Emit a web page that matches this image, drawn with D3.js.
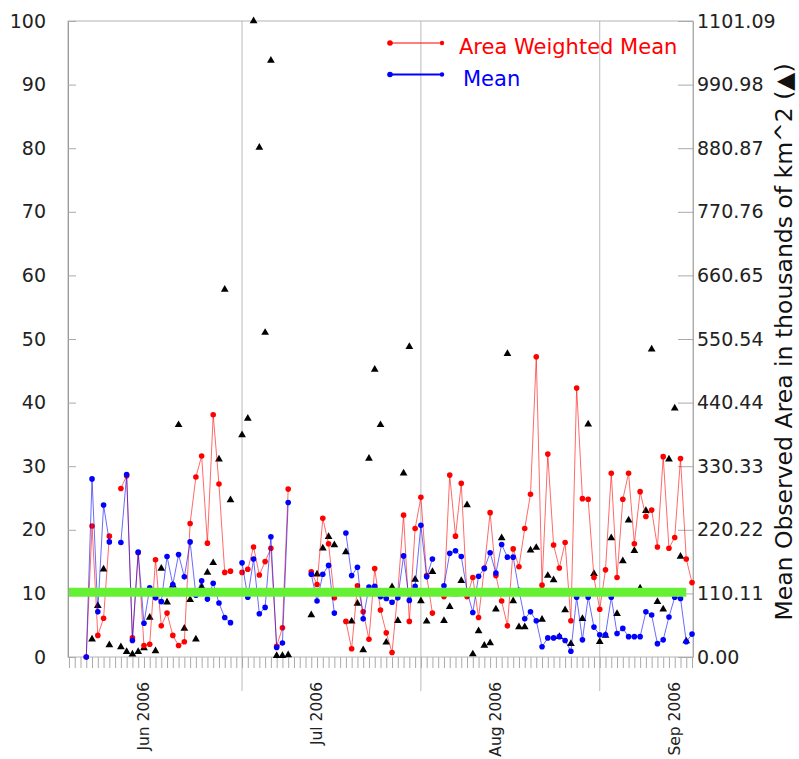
<!DOCTYPE html>
<html>
<head>
<meta charset="utf-8">
<script src="https://cdn.jsdelivr.net/npm/d3@7"></script>
<style>
  body { margin: 0; background: #fff; }
  svg text { font-family: "DejaVu Sans", sans-serif; }
</style>
</head>
<body>
<script>
// daily observations, 2006-05-22 .. 2006-09-04 (null = no data that day)
var startDay = new Date(2006, 4, 22);
var endDay = new Date(2006, 8, 5);

var weightedMean = [0, 20.6, 3.4, 6.1, 19.0, null, 26.5, 28.5, 3.0, 16.4,
  1.8, 2.0, 15.3, 4.9, 6.9, 3.4, 1.8, 2.4, 21.0, 28.3,
  31.6, 17.9, 38.1, 27.2, 13.3, 13.5, null, 13.3, 13.8, 17.3,
  12.9, 15.0, 17.1, 1.7, 4.6, 26.4, null, null, null, 13.4,
  11.4, 21.8, 17.8, 9.3, null, 5.6, 1.3, 11.2, 7.1, 2.8,
  13.9, 7.4, 3.8, 0.7, 10.2, 22.3, 5.6, 20.2, 25.1, 12.8,
  6.9, null, 9.5, 28.6, 19.0, 27.3, 9.5, 12.5, 6.2, 14.0,
  22.7, 12.8, 8.8, 4.9, 17.0, 14.2, 20.2, 25.6, 47.2, 11.3,
  31.9, 17.6, 14.0, 18.0, 5.7, 42.3, 24.9, 24.8, 12.5, 7.5,
  13.7, 28.9, 12.5, 24.8, 28.9, 17.8, 26.0, 22.1, 23.1, 17.3,
  31.5, 17.1, 18.8, 31.2, 15.4, 11.7];

var plainMean = [0, 28.0, 7.1, 23.9, 18.1, null, 18.0, 28.7, 2.6, 16.5,
  5.3, 10.9, 9.3, 8.7, 15.8, 11.4, 16.1, 12.6, 18.1, 9.7,
  12.0, 9.1, 11.6, 8.5, 6.2, 5.4, null, 14.8, 9.4, 15.4,
  6.8, 7.8, 18.9, 1.5, 2.2, 24.3, null, null, null, 13.0,
  8.8, 13.0, 14.4, 6.9, null, 19.5, 12.8, 14.1, 6.0, 11.0,
  11.1, 9.5, 9.2, 8.6, 9.3, 15.9, 8.9, 11.1, 20.7, 12.6,
  15.4, null, 11.2, 16.3, 16.7, 15.8, 10.4, 7.0, 12.7, 13.9,
  16.4, 13.2, 17.7, 15.7, 15.7, 10.5, 6.0, 7.1, 5.7, 1.6,
  3.0, 3.0, 3.2, 2.6, 0.9, 9.4, 2.7, 9.4, 4.7, 3.5,
  3.5, 9.4, 3.7, 4.5, 3.2, 3.2, 3.2, 7.1, 6.6, 2.1,
  2.7, 6.3, 9.4, 9.2, 2.4, 3.6];

// mean observed area, thousands of km^2 (right axis)
var observedArea = [null, 30.6, 88.9, 151.9, 20.8, null, 17.3, 9.2, 4.6, 9.2,
  15.6, 68.3, 10.4, 153.1, 94.7, 124.4, 401.9, 49.5, 99.1, 30.8,
  121.1, 146.4, 163.0, 342.4, 636.4, 272.0, null, 384.3, 412.9, 1101.09,
  882.0, 561.6, 1032.8, 2.2, 2.2, 3.3, null, null, null, 72.7,
  143.1, 188.3, 208.1, 193.8, null, 181.7, 61.7, 92.5, 12.1, 343.5,
  497.7, 401.9, 25.3, 121.1, 62.8, 318.2, 537.3, 134.3, 96.9, 61.7,
  147.5, null, 62.8, 87.0, 109.0, 132.1, 263.2, 5.0, 45.1, 19.8,
  24.2, 82.6, 205.9, 525.2, 96.9, 51.8, 51.8, 185.0, 189.4, 65.0,
  140.9, 133.2, 35.2, 81.5, 23.1, null, 66.1, 403.0, 144.2, 26.4,
  37.4, 205.9, 74.9, 166.3, 236.7, 183.9, 118.9, 253.3, 532.9, 95.8,
  82.6, 342.4, 430.5, 174.0, 27.5, null];

var overallLevel = 10.2;
var overallFrom = new Date(2006, 4, 19);
var overallTo = new Date(2006, 8, 3);

var leftTicks = [0, 10, 20, 30, 40, 50, 60, 70, 80, 90, 100];
var rightTicks = [0, 110.11, 220.22, 330.33, 440.44, 550.54, 660.65, 770.76, 880.87, 990.98, 1101.09];
var monthLabels = [new Date(2006, 5, 1), new Date(2006, 6, 1), new Date(2006, 7, 1), new Date(2006, 8, 1)];
var gridDates = [new Date(2006, 5, 18), new Date(2006, 6, 19), new Date(2006, 7, 19)];

var seriesNames = ["Area Weighted Mean", "Mean"];
var seriesColours = ["#ff0000", "#0000ff"];

var width = 799, height = 759;
var margin = { top: 21, right: 106, bottom: 102, left: 68 };
var plotW = width - margin.left - margin.right;
var plotH = height - margin.top - margin.bottom;

var days = d3.timeDay.range(startDay, endDay);

var svg = d3.select("body").append("svg")
  .attr("width", width).attr("height", height)
  .append("g")
  .attr("transform", "translate(" + margin.left + "," + margin.top + ")");

var x = d3.scaleTime()
  .domain([new Date(2006, 4, 18, 20), new Date(2006, 8, 4, 4)])
  .range([0, plotW]);
var y = d3.scaleLinear().domain([0, 100]).range([plotH, 0]);
var yArea = d3.scaleLinear().domain([0, 1101.09]).range([plotH, 0]);

// grid lines (run past the bottom of the frame)
svg.selectAll(".grid").data(gridDates).enter().append("line")
  .attr("class", "grid")
  .attr("x1", function(d) { return x(d); }).attr("x2", function(d) { return x(d); })
  .attr("y1", 0).attr("y2", plotH + 34)
  .attr("stroke", "#bbbbbb").attr("stroke-width", 1);

// daily minor ticks
svg.append("g").attr("transform", "translate(0," + plotH + ")")
  .call(d3.axisBottom(x).ticks(d3.timeDay.every(1)).tickSize(11).tickFormat(""))
  .call(function(g) {
    g.select(".domain").remove();
    g.selectAll("line").attr("stroke", "#aaaaaa");
  });

// month labels
svg.append("g").selectAll("text").data(monthLabels).enter().append("text")
  .attr("transform", function(d) { return "translate(" + x(d) + "," + (plotH + 25) + ")rotate(-90)"; })
  .attr("dy", "0.35em")
  .attr("text-anchor", "end")
  .attr("font-size", 15.5)
  .attr("fill", "#222")
  .text(d3.timeFormat("%b %Y"));

// frame
svg.append("rect")
  .attr("x", 0).attr("y", 0).attr("width", plotW).attr("height", plotH)
  .attr("fill", "none").attr("stroke", "#b4b4b4").attr("stroke-width", 1);

// left axis
svg.append("g")
  .call(d3.axisLeft(y).tickValues(leftTicks).tickSizeInner(-8).tickSizeOuter(0).tickPadding(22))
  .call(function(g) {
    g.select(".domain").attr("stroke", "#999");
    g.selectAll("line").attr("stroke", "#aaa");
    g.selectAll("text").attr("font-size", 19).attr("fill", "#222").attr("font-family", "DejaVu Sans");
  });

// right axis
svg.append("g").attr("transform", "translate(" + plotW + ",0)")
  .call(d3.axisRight(yArea).tickValues(rightTicks).tickFormat(d3.format(".2f"))
    .tickSizeInner(-15).tickSizeOuter(0).tickPadding(4))
  .call(function(g) {
    g.select(".domain").attr("stroke", "#aaa");
    g.selectAll("line").attr("stroke", "#aaa");
    g.selectAll("text").attr("font-size", 19).attr("fill", "#222").attr("font-family", "DejaVu Sans");
  });

svg.append("text")
  .attr("transform", "translate(" + (plotW + 99) + "," + (plotH / 2 + 3) + ")rotate(-90)")
  .attr("text-anchor", "middle")
  .attr("font-size", 23.5)
  .attr("fill", "#111")
  .text("Mean Observed Area in thousands of km^2 (\u25B2)");

// observed area triangles
var tri = d3.symbol().type(d3.symbolTriangle).size(26);
svg.append("g").selectAll("path")
  .data(days.map(function(d, i) { return { date: d, v: observedArea[i] }; })
    .filter(function(d) { return d.v != null; }))
  .enter().append("path")
  .attr("d", tri)
  .attr("transform", function(d) { return "translate(" + x(d.date) + "," + yArea(d.v) + ")"; })
  .attr("fill", "#000");

// red and blue series
[weightedMean, plainMean].forEach(function(vals, k) {
  var pts = days.map(function(d, i) { return { date: d, v: vals[i] }; });
  var line = d3.line()
    .defined(function(d) { return d.v != null; })
    .x(function(d) { return x(d.date); })
    .y(function(d) { return y(d.v); });
  svg.append("path").datum(pts)
    .attr("d", line)
    .attr("fill", "none")
    .attr("stroke", seriesColours[k])
    .attr("stroke-opacity", 0.65)
    .attr("stroke-width", 0.9);
  svg.append("g").selectAll("circle")
    .data(pts.filter(function(d) { return d.v != null; }))
    .enter().append("circle")
    .attr("cx", function(d) { return x(d.date); })
    .attr("cy", function(d) { return y(d.v); })
    .attr("r", 2.8)
    .attr("fill", seriesColours[k]);
});

// overall level
svg.append("line")
  .attr("x1", x(overallFrom)).attr("x2", x(overallTo))
  .attr("y1", y(overallLevel)).attr("y2", y(overallLevel))
  .attr("stroke", "#66f033").attr("stroke-width", 9);

// legend
var legend = svg.append("g").attr("transform", "translate(" + (390 - margin.left) + "," + (43 - margin.top) + ")");
seriesNames.forEach(function(name, k) {
  var g = legend.append("g").attr("transform", "translate(0," + (k * 31.5) + ")");
  g.append("line").attr("x1", 0).attr("x2", 52).attr("y1", 0).attr("y2", 0)
    .attr("stroke", seriesColours[k]).attr("stroke-width", k === 0 ? 1 : 2);
  g.append("circle").attr("cx", 0).attr("cy", 0).attr("r", 2.8).attr("fill", seriesColours[k]);
  g.append("circle").attr("cx", 52).attr("cy", 0).attr("r", 2.2).attr("fill", seriesColours[k]);
  g.append("text").attr("x", k === 0 ? 69 : 73).attr("y", 11)
    .attr("font-size", 21).attr("fill", seriesColours[k]).text(name);
});
</script>
</body>
</html>
